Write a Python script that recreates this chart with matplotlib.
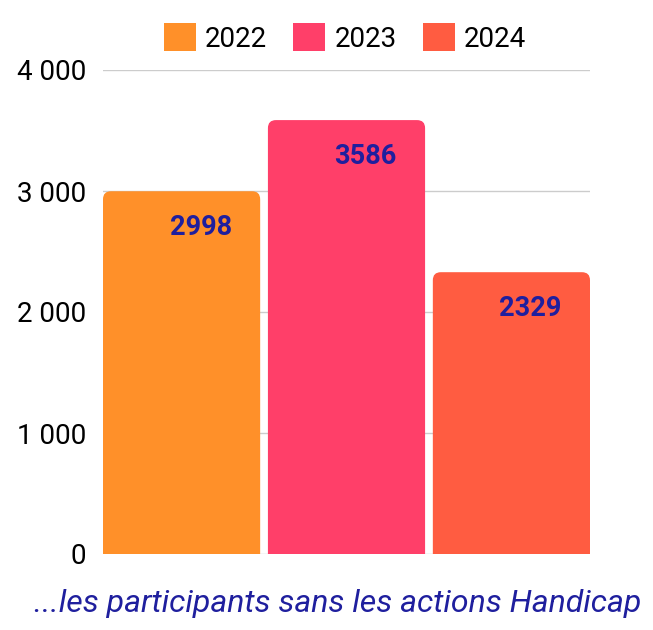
import matplotlib
matplotlib.use('Agg')
import matplotlib.pyplot as plt
from matplotlib.patches import FancyBboxPatch, Patch

# Daten
annees = ['2022', '2023', '2024']
participants = [2998, 3586, 2329]
couleurs = ['#FF9029', '#FF3F69', '#FF5C41']
yticks = [0, 1000, 2000, 3000, 4000]
legende = "...les participants sans les actions Handicap"

bleu = '#1F1F9E'

plt.rcParams['font.family'] = ['Roboto', 'DejaVu Sans']

fig = plt.figure(figsize=(6.53, 6.30), dpi=100)
ax = fig.add_axes([103 / 653, 76 / 630, 487 / 653, 484 / 630])

largeur = 0.953
ax.set_xlim(-largeur / 2, 2 + largeur / 2)
ax.set_ylim(0, 4000)

# rayon des coins arrondis (px -> unités)
px_x = 487 / (2 + largeur)
px_y = 484 / 4000
r = 8 / px_x
aspect = (8 / px_y) / r

for i, (v, c) in enumerate(zip(participants, couleurs)):
    barre = FancyBboxPatch((i - largeur / 2, -400), largeur, v + 400,
                           boxstyle=f"round,pad=0,rounding_size={r}",
                           mutation_aspect=aspect,
                           facecolor=c, edgecolor='none', zorder=3)
    ax.add_patch(barre)
    ax.text(i + 19 / px_x, v - 36 / px_y, str(v), ha='center', va='center',
            fontsize=19.5, fontweight='bold', color=bleu, zorder=4)

ax.set_yticks(yticks)
ax.set_yticklabels([f"{t:,}".replace(",", " ") for t in yticks], fontsize=20)
ax.set_xticks([])
ax.tick_params(axis='y', length=0, pad=12)
ax.grid(axis='y', color='#CCCCCC', linewidth=1, zorder=0)
ax.set_axisbelow(True)
for s in ax.spines.values():
    s.set_visible(False)

poignees = [Patch(facecolor=c, edgecolor='none', label=a) for a, c in zip(annees, couleurs)]
fig.legend(handles=poignees, loc='center', bbox_to_anchor=(345 / 653, 1 - 38 / 630),
           ncol=3, frameon=False, fontsize=20, handlelength=1.15, handleheight=1.15,
           handletextpad=0.32, columnspacing=0.97, borderaxespad=0, borderpad=0)

fig.text(338 / 653, 1 - 603 / 630, legende, ha='center', va='center',
         fontsize=23, style='italic', color=bleu)

plt.savefig('out.png', dpi=100)
plt.close()
